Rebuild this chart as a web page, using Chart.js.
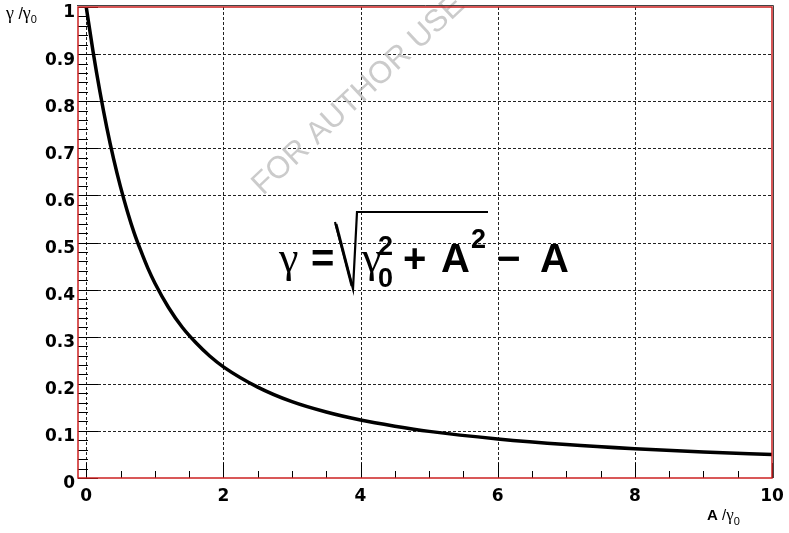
<!DOCTYPE html>
<html>
<head>
<meta charset="utf-8">
<script src="https://cdn.jsdelivr.net/npm/chart.js@4.4.0/dist/chart.umd.min.js"></script>
<style>
html,body{margin:0;padding:0;background:#fff;}
#wrap{width:789px;height:533px;position:relative;}
</style>
</head>
<body>
<div id="wrap"><canvas id="c" width="789" height="533"></canvas></div>
<script>
// ---- data ----
const xValues = [0, 0.1, 0.2, 0.3, 0.4, 0.5, 0.6, 0.7, 0.8, 0.9, 1.0, 1.2, 1.4, 1.6, 1.8, 2.0, 2.5, 3, 3.5, 4, 4.5, 5, 6, 7, 8, 9, 10];
const yValues = [1.000, 0.905, 0.820, 0.744, 0.677, 0.618, 0.566, 0.520, 0.481, 0.445, 0.414, 0.362, 0.320, 0.287, 0.259, 0.236, 0.193, 0.162, 0.140, 0.123, 0.110, 0.099, 0.083, 0.071, 0.062, 0.055, 0.050];
const xTicks = [0, 2, 4, 6, 8, 10];
const xTickLabels = ['0', '2', '4', '6', '8', '10'];
const yTicks = [0, 0.1, 0.2, 0.3, 0.4, 0.5, 0.6, 0.7, 0.8, 0.9, 1];
const yTickLabels = ['0', '0.1', '0.2', '0.3', '0.4', '0.5', '0.6', '0.7', '0.8', '0.9', '1'];
const xMinorStep = 0.5;
const yMinorStep = 0.02;
const xRange = [-0.12, 10];
const yRange = [0, 1];
const watermarkText = 'FOR AUTHOR USE';

const points = xValues.map((x, i) => ({x: x, y: yValues[i]}));

function textRun(ctx, parts, x, y) {
  // parts: [text, font, dy]
  let cx = x;
  parts.forEach(p => {
    ctx.font = p[1];
    ctx.fillText(p[0], cx, y + (p[2] || 0));
    cx += ctx.measureText(p[0]).width;
  });
}

const SERIF = '"Liberation Serif", "DejaVu Serif", serif';
const SANS = '"Liberation Sans", Arial, sans-serif';

const decor = {
  id: 'decor',
  beforeDatasetsDraw(chart) {
    const ctx = chart.ctx, a = chart.chartArea;
    const xs = chart.scales.x, ys = chart.scales.y;
    ctx.save();
    // dotted grid
    ctx.strokeStyle = '#222';
    ctx.lineWidth = 1;
    ctx.setLineDash([3, 2]);
    xTicks.forEach(v => {
      if (v >= xRange[1]) return;
      const px = Math.round(xs.getPixelForValue(v)) + 0.5;
      ctx.beginPath(); ctx.moveTo(px, a.top); ctx.lineTo(px, a.bottom); ctx.stroke();
    });
    yTicks.forEach(v => {
      if (v <= yRange[0] || v >= yRange[1]) return;
      const py = Math.round(ys.getPixelForValue(v)) + 0.5;
      ctx.beginPath(); ctx.moveTo(a.left, py); ctx.lineTo(a.right, py); ctx.stroke();
    });
    ctx.setLineDash([]);
    // tick marks (inside the frame)
    ctx.strokeStyle = '#000';
    ctx.lineWidth = 1;
    const nY = Math.round((yRange[1] - yRange[0]) / yMinorStep);
    for (let i = 0; i <= nY; i++) {
      const v = yRange[0] + i * yMinorStep;
      const major = i % 5 === 0;
      const py = Math.round(ys.getPixelForValue(v)) + 0.5;
      ctx.beginPath(); ctx.moveTo(a.left, py); ctx.lineTo(a.left + (major ? 20 : 10), py); ctx.stroke();
    }
    const nX = Math.round((xRange[1] - 0) / xMinorStep);
    for (let i = 0; i <= nX; i++) {
      const v = i * xMinorStep;
      const major = i % 4 === 0;
      const px = Math.round(xs.getPixelForValue(v)) + 0.5;
      ctx.beginPath(); ctx.moveTo(px, a.bottom); ctx.lineTo(px, a.bottom - (major ? 15 : 7)); ctx.stroke();
    }
    // watermark
    ctx.save();
    ctx.translate(263, 196);
    ctx.rotate(-43 * Math.PI / 180);
    ctx.fillStyle = 'rgba(185,185,185,0.75)';
    ctx.font = '31px ' + SANS;
    ctx.textAlign = 'left';
    ctx.textBaseline = 'alphabetic';
    ctx.fillText(watermarkText, 0, 0);
    ctx.restore();
    ctx.restore();
  },
  afterDraw(chart) {
    const ctx = chart.ctx, a = chart.chartArea;
    ctx.save();
    // frame
    ctx.strokeStyle = '#444';
    ctx.lineWidth = 1;
    ctx.beginPath();
    ctx.moveTo(a.left - 1, a.top - 1.5); ctx.lineTo(a.right + 1.5, a.top - 1.5); ctx.lineTo(a.right + 1.5, a.bottom);
    ctx.stroke();
    ctx.strokeStyle = '#cc2020';
    ctx.lineWidth = 1.5;
    ctx.strokeRect(a.left, a.top, a.right - a.left, a.bottom - a.top);

    // equation
    ctx.fillStyle = '#000';
    ctx.textBaseline = 'alphabetic';
    ctx.textAlign = 'left';
    const big = 'bold 40px ' + SANS;
    const small = 'bold 27px ' + SANS;
    const gBig = '44px ' + SERIF;
    const base = 272;
    ctx.font = gBig;
    ctx.fillText('γ', 279, base);
    ctx.font = big;
    ctx.fillText('=', 311, base);
    // radical sign
    ctx.strokeStyle = '#000';
    ctx.lineWidth = 2.2;
    ctx.beginPath();
    ctx.moveTo(335, 222);
    ctx.lineTo(353, 289);
    ctx.lineTo(357, 212);
    ctx.lineTo(488, 212);
    ctx.stroke();
    ctx.lineWidth = 3;
    ctx.beginPath();
    ctx.moveTo(336, 224);
    ctx.lineTo(352, 286);
    ctx.stroke();
    ctx.font = gBig;
    ctx.fillText('γ', 362, base);
    ctx.font = small;
    ctx.fillText('2', 378, 255);
    ctx.fillText('0', 378, 287);
    ctx.font = big;
    ctx.fillText('+', 403, base);
    ctx.fillText('A', 441, base);
    ctx.font = small;
    ctx.fillText('2', 471, 248);
    ctx.font = big;
    ctx.fillText('\u2212', 497, base);
    ctx.fillText('A', 540, base);

    // axis titles
    const sub = '11px ' + SANS;
    textRun(ctx, [['γ', '18px ' + SERIF, 0], [' /', '16px ' + SANS, 0], ['γ', '18px ' + SERIF, 0], ['0', sub, 4]], 6, 19);
    textRun(ctx, [['A', 'bold 15px ' + SANS, 0], [' /', '15px ' + SANS, 0], ['γ', '17px ' + SERIF, 0], ['0', sub, 5]], 707, 520);
    ctx.restore();
  }
};

new Chart(document.getElementById('c'), {
  type: 'line',
  data: {
    datasets: [{
      data: points,
      borderColor: '#000',
      borderWidth: 3.5,
      pointRadius: 0,
      fill: false,
      cubicInterpolationMode: 'monotone'
    }]
  },
  options: {
    responsive: false,
    animation: false,
    events: [],
    layout: {padding: {left: 0, right: 17, top: 7, bottom: 0}},
    plugins: {legend: {display: false}, tooltip: {enabled: false}, title: {display: false}},
    scales: {
      x: {
        type: 'linear',
        min: xRange[0], max: xRange[1],
        afterBuildTicks(s) { s.ticks = xTicks.map(v => ({value: v})); },
        afterFit(s) { s.height = 55; s.paddingLeft = 0; s.paddingRight = 0; },
        grid: {display: false, drawTicks: false},
        border: {display: false},
        ticks: {
          autoSkip: false, maxRotation: 0, padding: 8, color: '#000',
          font: {family: '"DejaVu Sans", sans-serif', weight: 'bold', size: 17},
          callback: (v) => { const i = xTicks.indexOf(v); return i >= 0 ? xTickLabels[i] : ''; }
        }
      },
      y: {
        type: 'linear',
        min: yRange[0], max: yRange[1],
        afterBuildTicks(s) { s.ticks = yTicks.map(v => ({value: v})); },
        afterFit(s) { s.width = 78; s.paddingTop = 0; s.paddingBottom = 0; },
        grid: {display: false, drawTicks: false},
        border: {display: false},
        ticks: {
          autoSkip: false, padding: 3, color: '#000', labelOffset: 6,
          font: {family: '"DejaVu Sans", sans-serif', weight: 'bold', size: 17},
          callback: (v) => { const i = yTicks.findIndex(t => Math.abs(t - v) < 1e-9); return i >= 0 ? yTickLabels[i] : ''; }
        }
      }
    }
  },
  plugins: [decor]
});
</script>
</body>
</html>
